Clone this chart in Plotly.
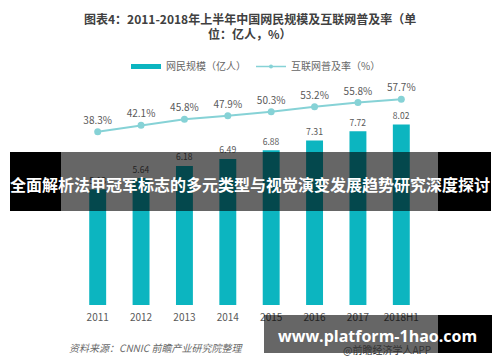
import plotly.graph_objects as go

years = ["2011", "2012", "2013", "2014", "2015", "2016", "2017", "2018H1"]
users = [5.13, 5.64, 6.18, 6.49, 6.88, 7.31, 7.72, 8.02]
rate = [38.3, 42.1, 45.8, 47.9, 50.3, 53.2, 55.8, 57.7]
rate_labels = [f"{v:.1f}%" for v in rate]
user_labels = [f"{v:.2f}" for v in users]

W, H = 500, 362
L, R, T, B = 76, 77, 80, 57
PW, PH = W - L - R, H - T - B

def px(x):
    return (x - L) / PW

def py(y):
    return (H - B - y) / PH

BAR = "#0cb5c0"
LINE = "#86d2d6"
GRAY = "#595959"
CJK = "Noto Sans CJK SC"

fig = go.Figure()
fig.add_trace(go.Bar(
    x=years, y=users, marker=dict(color=BAR, line=dict(width=0)),
    text=user_labels, textposition="outside", cliponaxis=False,
    textfont=dict(size=10, color=GRAY, family=CJK),
    showlegend=False, width=0.39,
))
fig.add_trace(go.Scatter(
    x=years, y=rate, yaxis="y2", mode="lines+markers+text",
    line=dict(color=LINE, width=2), marker=dict(size=7, color=LINE),
    text=rate_labels, textposition="top center", cliponaxis=False,
    textfont=dict(size=10, color=GRAY, family=CJK),
    showlegend=False,
))
# legend entries
fig.add_trace(go.Scatter(x=[None], y=[None], mode="lines",
                         line=dict(color=BAR, width=5), name="网民规模（亿人）"))
fig.add_trace(go.Scatter(x=[None], y=[None], mode="lines+markers",
                         line=dict(color=LINE, width=1.5), marker=dict(size=4, color=LINE),
                         name="互联网普及率（%）"))

shapes = [
    dict(type="rect", xref="paper", yref="paper", x0=px(10), x1=px(61), y0=py(211), y1=py(152),
         fillcolor="black", line=dict(width=0), layer="above"),
    dict(type="rect", xref="paper", yref="paper", x0=px(438), x1=px(491), y0=py(211), y1=py(152),
         fillcolor="black", line=dict(width=0), layer="above"),
    dict(type="rect", xref="paper", yref="paper", x0=px(61), x1=px(438), y0=py(211), y1=py(152),
         fillcolor="rgba(0,0,0,0.6)", line=dict(width=0), layer="above"),
    dict(type="rect", xref="paper", yref="paper", x0=px(264), x1=px(438), y0=py(353), y1=py(315),
         fillcolor="rgba(0,0,0,0.6)", line=dict(width=0), layer="above"),
    dict(type="rect", xref="paper", yref="paper", x0=px(438), x1=px(492), y0=py(353), y1=py(315),
         fillcolor="black", line=dict(width=0), layer="above"),
]

annotations = [
    dict(text="<b>图表4：2011-2018年上半年中国网民规模及互联网普及率（单</b>", x=px(250), y=py(18),
         xref="paper", yref="paper", showarrow=False, xanchor="center", yanchor="middle",
         font=dict(size=12, color="#404040", family=CJK)),
    dict(text="<b>位：亿人，%）</b>", x=px(250), y=py(33),
         xref="paper", yref="paper", showarrow=False, xanchor="center", yanchor="middle",
         font=dict(size=12, color="#404040", family=CJK)),
    dict(text="<i>资料来源：CNNIC 前瞻产业研究院整理</i>", x=px(67), y=py(347),
         xref="paper", yref="paper", showarrow=False, xanchor="left", yanchor="middle",
         font=dict(size=10, color="#6a6a6a", family=CJK)),
    dict(text="<b>全面解析法甲冠军标志的多元类型与视觉演变发展趋势研究深度探讨</b>", x=px(250), y=py(184),
         xref="paper", yref="paper", showarrow=False, xanchor="center", yanchor="middle",
         font=dict(size=16, color="white", family=CJK)),
    dict(text="@前瞻经济学人APP", x=px(387), y=py(349),
         xref="paper", yref="paper", showarrow=False, xanchor="center", yanchor="middle",
         font=dict(size=10, color="#333333", family=CJK)),
    dict(text="<b>www.platform-1hao.com</b>", x=px(377), y=py(336),
         xref="paper", yref="paper", showarrow=False, xanchor="center", yanchor="middle",
         font=dict(size=16, color="white", family="Open Sans")),
]

fig.update_layout(
    width=W, height=H, margin=dict(l=L, r=R, t=T, b=B, pad=0),
    paper_bgcolor="white", plot_bgcolor="white",
    bargap=0.61,
    xaxis=dict(type="category", showgrid=False, showline=False, zeroline=False, ticks="",
               tickfont=dict(size=10, color=GRAY, family=CJK), range=[-0.5, 7.5],
               ticklabelstandoff=5),
    yaxis=dict(range=[0, 10], visible=False, showgrid=False),
    yaxis2=dict(range=[-65.5, 69.26], overlaying="y", visible=False, showgrid=False),
    legend=dict(orientation="h", x=px(256), xanchor="center", y=py(52), yanchor="top",
                font=dict(size=10, color="#666666", family=CJK), itemwidth=30,
                bgcolor="rgba(0,0,0,0)", tracegroupgap=0),
    shapes=shapes, annotations=annotations, showlegend=True,
)

fig.write_html("out.html", config={"displayModeBar": False},
               post_script="document.body.style.margin='0';document.body.style.overflow='hidden';")
